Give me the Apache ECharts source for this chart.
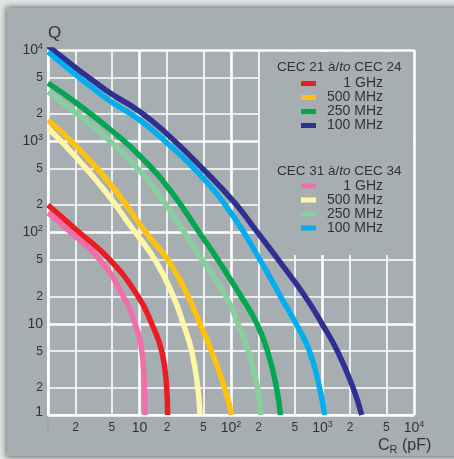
<!DOCTYPE html>
<html>
<head>
<meta charset="utf-8">
<script src="https://cdn.jsdelivr.net/npm/echarts@6/dist/echarts.min.js"></script>
<style>
  html, body { margin: 0; padding: 0; width: 454px; height: 459px; overflow: hidden; background: #e2e3e3; }
  #panel { position: absolute; left: 7px; top: 8px; width: 470px; height: 448px; background: #a7aeb1;
           box-shadow: 0 0 6px 1px rgba(0, 0, 0, 0.55); }
  #chart { position: absolute; left: 0; top: 0; width: 454px; height: 459px; }
</style>
</head>
<body>
<div id="panel"></div>
<div id="chart"></div>
<script>
// ---- data: capacitance C_R (pF) and quality factor Q for each curve ----
const frequencies = ['1 GHz', '500 MHz', '250 MHz', '100 MHz'];
const groupTitles = ['CEC 21 à/to CEC 24', 'CEC 31 à/to CEC 34'];

// CEC 21 à CEC 24
const cap21_1GHz   = [1, 2.06, 4.76, 9.63, 13.6, 17.5, 19.8, 20.3];
const q21_1GHz     = [200, 106, 50, 20, 10, 5, 2, 1];
const cap21_500MHz = [1, 1.97, 5.0, 11.8, 20.5, 33.9, 45.8, 61.2, 84.9, 101.8];
const q21_500MHz   = [1710, 910, 323, 99, 50, 20, 10, 5, 2, 1];
const cap21_250MHz = [1, 1.97, 5.0, 10.1, 21.5, 47, 72.1, 128.6, 192, 251, 314, 347];
const q21_250MHz   = [4350, 2690, 1295, 689, 292, 94, 50, 20, 10, 5, 2, 1];
const cap21_100MHz = [1, 4.27, 9.87, 20, 49.4, 110.6, 183, 330, 644, 987, 1458, 2154, 2682];
const q21_100MHz   = [11100, 3640, 2150, 1200, 497, 210, 109, 50, 20, 10, 5, 2, 1];

// CEC 31 à CEC 34
const cap31_1GHz   = [1, 1.67, 3.70, 6.65, 8.93, 10.6, 11.3, 11.5];
const q31_1GHz     = [164, 106, 50, 20, 10, 5, 2, 1];
const cap31_500MHz = [1, 1.97, 4.2, 8.28, 14.8, 23.4, 30.1, 37.2, 43.3, 45.8];
const q31_500MHz   = [1397, 689, 285, 112, 50, 20, 10, 5, 2, 1];
const cap31_250MHz = [1, 1.97, 5.0, 10.1, 19.0, 30.6, 48.8, 88.2, 119.3, 155.3, 194.8, 211.2];
const q31_250MHz   = [3490, 2090, 957, 472, 210, 101, 50, 20, 10, 5, 2, 1];
const cap31_100MHz = [1, 4.27, 9.87, 20, 49.4, 110.6, 207.5, 347.5, 513, 721, 927, 1052];
const q31_100MHz   = [9500, 2980, 1730, 957, 396, 141, 50, 20, 10, 5, 2, 1];

// ---- axis ticks ----
const decadeTicks = [1, 10, 100, 1000, 10000];
const decadeBase = ['1', '10', '10', '10', '10'];
const decadeSup = ['', '', '2', '3', '4'];
const minorTicks = [2, 5, 20, 50, 200, 500, 2000, 5000];
const minorLabels = ['2', '5', '2', '5', '2', '5', '2', '5'];

const FONT = '"Liberation Sans", Arial, sans-serif';
const TEXT = '#333333';
const PANEL = '#a7aeb1';

const red = '#ed1c24', yellow = '#ffc20e', green = '#00a651', navy = '#2e3192';
const pink = '#f06eaa', paleYellow = '#fff6a8', paleGreen = '#88cf9e', cyan = '#00aeef';

function pairs(xs, ys) { return xs.map((x, i) => [x, ys[i]]); }
function idx(list, v) {
  for (let i = 0; i < list.length; i++) if (Math.abs(list[i] - v) / list[i] < 1e-6) return i;
  return -1;
}

function curve(name, color, xs, ys) {
  return {
    name: name, type: 'line', xAxisIndex: 0, yAxisIndex: 0,
    data: pairs(xs, ys), smooth: 0.5, symbol: 'none', showSymbol: false,
    color: color, lineStyle: { width: 5.5, color: color, cap: 'butt' }, itemStyle: { color: color },
    silent: true, z: 3
  };
}

const seriesA = [
  curve(groupTitles[0] + ' · ' + frequencies[0], red, cap21_1GHz, q21_1GHz),
  curve(groupTitles[0] + ' · ' + frequencies[1], yellow, cap21_500MHz, q21_500MHz),
  curve(groupTitles[0] + ' · ' + frequencies[2], green, cap21_250MHz, q21_250MHz),
  curve(groupTitles[0] + ' · ' + frequencies[3], navy, cap21_100MHz, q21_100MHz)
];
const seriesB = [
  curve(groupTitles[1] + ' · ' + frequencies[0], pink, cap31_1GHz, q31_1GHz),
  curve(groupTitles[1] + ' · ' + frequencies[1], paleYellow, cap31_500MHz, q31_500MHz),
  curve(groupTitles[1] + ' · ' + frequencies[2], paleGreen, cap31_250MHz, q31_250MHz),
  curve(groupTitles[1] + ' · ' + frequencies[3], cyan, cap31_100MHz, q31_100MHz)
];

const labelRich = {
  b: { fontFamily: FONT, fontSize: 14, color: TEXT, lineHeight: 16 },
  o: { fontFamily: FONT, fontSize: 14, color: TEXT, lineHeight: 16, padding: [0, 0, 6, 0] },
  s: { fontFamily: FONT, fontSize: 9, color: TEXT, lineHeight: 16, verticalAlign: 'top' },
  m: { fontFamily: FONT, fontSize: 12, color: TEXT, lineHeight: 16 },
  t: { width: 1, height: 10, backgroundColor: '#8f979a' }
};

function decadeLabel(isX) {
  return function (v) {
    const i = idx(decadeTicks, v);
    if (i < 0) return '';
    if (i === 0) return isX ? '{t| }' : '{o|1}';
    return '{b|' + decadeBase[i] + '}' + (decadeSup[i] ? '{s|' + decadeSup[i] + '}' : '');
  };
}
function minorLabel(v) {
  const i = idx(minorTicks, v);
  return i < 0 ? '' : '{m|' + minorLabels[i] + '}';
}

function majorAxis(isX) {
  return {
    type: 'log', logBase: 10, min: 1, max: 10000,
    position: isX ? 'bottom' : 'left',
    axisLine: { show: true, lineStyle: { color: '#ffffff', width: 2 } },
    axisTick: { show: false, customValues: decadeTicks },
    splitLine: { show: true, lineStyle: { color: '#ffffff', width: 2.6 } },
    axisLabel: { customValues: decadeTicks, formatter: decadeLabel(isX), margin: 5, rich: labelRich,
                 fontFamily: FONT, color: TEXT },
    z: 0
  };
}
function minorAxis(isX) {
  return {
    type: 'log', logBase: 10, min: 1, max: 10000,
    position: isX ? 'bottom' : 'left',
    axisLine: { show: false },
    axisTick: { show: false, customValues: minorTicks },
    splitLine: { show: true, lineStyle: { color: '#ffffff', width: 1.6 } },
    axisLabel: { customValues: minorTicks, formatter: minorLabel, margin: 5, rich: labelRich,
                 fontFamily: FONT, color: TEXT },
    z: 0
  };
}

const yMain = majorAxis(false);
yMain.name = 'Q';
yMain.nameLocation = 'end';
yMain.nameGap = 7;
yMain.nameTextStyle = { fontFamily: FONT, fontSize: 17, color: TEXT, align: 'left', verticalAlign: 'bottom' };

function legendGroup(list, top) {
  return {
    data: list.map(s => s.name), orient: 'vertical', left: 301, top: top,
    icon: 'rect', itemWidth: 15, itemHeight: 5, itemGap: 0, padding: 0,
    selectedMode: false,
    formatter: function (name) { return '{r|' + name.split(' · ')[1] + '}'; },
    textStyle: { fontFamily: FONT, fontSize: 14, color: TEXT,
                 rich: { r: { fontFamily: FONT, fontSize: 14, color: TEXT, width: 62, align: 'right', lineHeight: 17.6 } } }
  };
}

function titleRich(t) {
  const parts = t.split('à/to');
  return '{n|' + parts[0] + 'à/}{i|to}{n|' + parts[1] + '}';
}
const titleText = {
  rich: {
    n: { fontFamily: FONT, fontSize: 13.5, color: TEXT, fontWeight: 'normal', lineHeight: 16 },
    i: { fontFamily: FONT, fontSize: 13.5, color: TEXT, fontStyle: 'italic', fontWeight: 'normal', lineHeight: 16 },
    c: { fontFamily: FONT, fontSize: 16, color: TEXT, fontWeight: 'normal', lineHeight: 18 },
    r: { fontFamily: FONT, fontSize: 11, color: TEXT, fontWeight: 'normal', verticalAlign: 'bottom', lineHeight: 18, padding: [6, 0, 0, 0] }
  }
};

const option = {
  animation: false,
  backgroundColor: 'transparent',
  grid: { left: 48, top: 50, width: 366, height: 365, containLabel: false, outerBoundsMode: 'none' },
  title: [
    { text: titleRich(groupTitles[0]), left: 277, top: 59, padding: 0, textStyle: titleText },
    { text: titleRich(groupTitles[1]), left: 277, top: 163, padding: 0, textStyle: titleText },
    { text: '{c|C}{r|R}{c| (pF)}', left: 378, top: 437, padding: 0, textStyle: titleText }
  ],
  legend: [legendGroup(seriesA, 76.5), legendGroup(seriesB, 179)],
  xAxis: [majorAxis(true), minorAxis(true)],
  yAxis: [yMain, minorAxis(false)],
  graphic: [
    // plain panel behind the key, covering the grid lines there
    { type: 'rect', left: 260, top: 52, shape: { width: 153, height: 203 }, style: { fill: PANEL }, z: 1, silent: true }
  ],
  series: seriesA.concat(seriesB)
};

const chart = echarts.init(document.getElementById('chart'), null, { renderer: 'canvas' });
chart.setOption(option);
</script>
</body>
</html>
